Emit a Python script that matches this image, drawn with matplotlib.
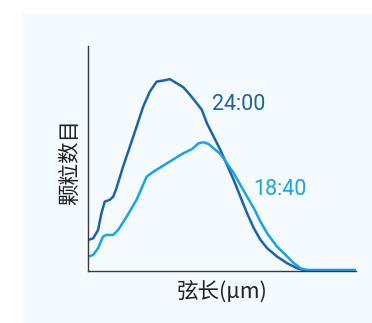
import matplotlib
matplotlib.use("Agg")
import matplotlib.pyplot as plt
from matplotlib.patches import Rectangle
import numpy as np

# Chord length (arbitrary units) and particle counts for the two sampling times
x_2400 = [0, 1.9, 3.75, 5, 6.25, 8.1, 9.4, 10.6, 13.1, 16.9, 20.6, 23.1, 25.6, 28.1,
          30.6, 33.1, 35.6, 38.1, 40.6, 42.5, 44.4, 46.9, 49.4, 51.9, 54.4, 56.9,
          59.4, 61.9, 64.4, 66.9, 70.6, 74.4, 78.1, 80.6, 100]
y_2400 = [13.8, 14.5, 18.2, 25.6, 30.8, 31.6, 33.0, 36.7, 46.4, 59.7, 73.0, 79.7,
          84.1, 84.6, 85.2, 83.4, 81.6, 78.2, 74.5, 71.6, 65.6, 59.7, 53.8, 47.1,
          40.4, 33.0, 25.6, 19.0, 13.8, 10.1, 6.4, 3.4, 1.2, 0.4, 0.4]

x_1840 = [0, 1.9, 3.75, 5.6, 6.9, 9.4, 11.25, 14.4, 18.1, 21.9, 24.4, 28.1, 31.9,
          35.6, 38.75, 41.25, 43.1, 45, 46.9, 49.4, 51.9, 54.4, 56.9, 59.4, 61.9,
          64.4, 66.9, 70.6, 74.4, 76.9, 79.4, 81.9, 100]
y_1840 = [6.4, 7.1, 10.1, 15.3, 16.0, 16.0, 18.2, 24.1, 31.6, 41.9, 44.1, 46.8,
          49.6, 52.3, 54.1, 56.7, 57.2, 56.4, 54.5, 52.0, 47.9, 43.4, 38.2, 33.0,
          27.9, 21.9, 16.7, 10.8, 6.4, 3.4, 1.2, 0.4, 0.4]

series_labels = ["24:00", "18:40"]
x_label = "弦长(μm)"
y_label = "颗粒数目"

dark_blue = "#1b62ab"
light_blue = "#1aa2e4"

cjk = ["Noto Sans CJK SC", "DejaVu Sans"]

fig = plt.figure(figsize=(3.72, 3.23), dpi=100)
fig.patch.set_facecolor("white")
fig.patches.append(Rectangle((22 / 372, 0), 1 - 22 / 372, 1 - 13 / 323,
                             transform=fig.transFigure, facecolor="#f5faff",
                             edgecolor="none", zorder=-10))

ax = fig.add_axes([0.2366, 0.161, 0.720, 0.697])
ax.set_zorder(5)
ax.set_facecolor("none")
ax.plot(x_2400, y_2400, color=dark_blue, lw=1.8, solid_capstyle="round")
ax.plot(x_1840, y_1840, color=light_blue, lw=1.8, solid_capstyle="round")

ax.set_xlim(0, 100)
ax.set_ylim(0, 100)
ax.set_xticks([])
ax.set_yticks([])
for side in ("top", "right"):
    ax.spines[side].set_visible(False)
for side in ("left", "bottom"):
    ax.spines[side].set_color("#3a3a3a")
    ax.spines[side].set_linewidth(1.0)

ax.text(46.4, 73.8, series_labels[0], color=dark_blue, fontsize=15.5,
        family="Roboto", ha="left", va="center")
ax.text(61.8, 36.4, series_labels[1], color=light_blue, fontsize=15.5,
        family="Roboto", ha="left", va="center")

fig.text(0.188, 0.498, y_label, rotation=90, ha="center", va="center",
         fontsize=15.5, family=cjk, color="#222222", zorder=6)
fig.text(0.597, 0.096, x_label, ha="center", va="center",
         fontsize=15.5, family=cjk, color="#222222", zorder=6)

fig.savefig("out.png", dpi=100, facecolor=fig.get_facecolor())
